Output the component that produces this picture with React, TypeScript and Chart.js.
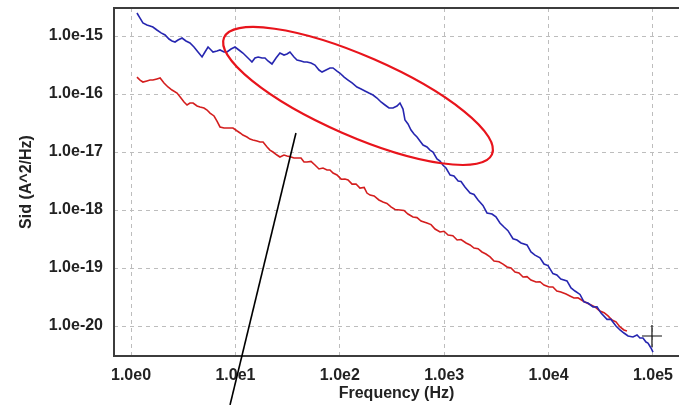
import { useEffect, useRef } from "react";
import { Chart, registerables } from "chart.js";

Chart.register(...registerables);

// ---- Tick values / labels ----
const xTickValues = [1, 10, 100, 1000, 10000, 100000];
const xTickLabels = ["1.0e0", "1.0e1", "1.0e2", "1.0e3", "1.0e4", "1.0e5"];
const yTickValues = [1e-20, 1e-19, 1e-18, 1e-17, 1e-16, 1e-15];
const yTickLabels = ["1.0e-20", "1.0e-19", "1.0e-18", "1.0e-17", "1.0e-16", "1.0e-15"];

const xTitle = "Frequency (Hz)";
const yTitle = "Sid (A^2/Hz)";

// ---- Blue series ----
const blueFreq = [
  1.14, 1.22, 1.30, 1.42, 1.52, 1.62, 1.77, 1.94, 2.12, 2.31,
  2.47, 2.64, 2.82, 3.08, 3.36, 3.67, 4.01, 4.38, 4.79, 5.11,
  5.47, 5.84, 6.10, 6.66, 7.12, 7.78, 8.31, 9.08, 9.91, 10.8,
  11.8, 12.9, 13.8, 14.4, 15.4, 16.5, 18.0, 19.2, 20.5, 22.4,
  24.5, 26.7, 29.2, 31.2, 33.3, 36.4, 38.9, 42.5, 45.4, 48.5,
  53.0, 57.8, 63.2, 67.6, 73.8, 80.5, 86.1, 94.0, 100, 110,
  120, 131, 146, 160, 174, 190, 208, 227, 248, 271,
  296, 323, 353, 377, 403, 421, 450, 481, 514, 549,
  586, 627, 684, 731, 781, 853, 912, 975, 1040, 1140,
  1240, 1360, 1450, 1580, 1770, 1930, 2110, 2350, 2570, 2870,
  3130, 3420, 3740, 4080, 4560, 4980, 5440, 6210, 6780, 7410,
  8270, 9040, 9870, 11000, 12000, 13100, 15000, 16400, 17900, 20000,
  21800, 23800, 26600, 29100, 31800, 36300, 39600, 44200, 48300, 52700,
  57700, 64300, 70300, 75000, 80200, 85700, 89500, 95700, 100000,
];
const blueSid = [
  2.49e-15, 2.04e-15, 1.68e-15, 1.55e-15, 1.49e-15, 1.43e-15, 1.27e-15, 1.13e-15, 1.04e-15, 8.87e-16,
  8.20e-16, 7.88e-16, 8.53e-16, 9.24e-16, 8.20e-16, 7.57e-16, 6.46e-16, 5.30e-16, 4.35e-16, 5.30e-16,
  6.46e-16, 5.74e-16, 5.30e-16, 5.51e-16, 5.74e-16, 5.30e-16, 5.30e-16, 5.97e-16, 6.46e-16, 5.74e-16,
  5.09e-16, 4.35e-16, 3.86e-16, 3.56e-16, 4.18e-16, 4.35e-16, 4.18e-16, 4.18e-16, 3.71e-16, 3.29e-16,
  4.18e-16, 5.09e-16, 4.70e-16, 4.90e-16, 5.30e-16, 4.35e-16, 3.86e-16, 3.71e-16, 3.56e-16, 3.56e-16,
  3.42e-16, 3.16e-16, 2.59e-16, 2.39e-16, 2.59e-16, 2.81e-16, 2.81e-16, 2.49e-16, 2.30e-16, 1.96e-16,
  1.74e-16, 1.55e-16, 1.32e-16, 1.22e-16, 1.13e-16, 1.04e-16, 9.61e-17, 8.53e-17, 7.28e-17, 6.46e-17,
  5.74e-17, 5.74e-17, 6.21e-17, 7.00e-17, 5.51e-17, 3.56e-17, 3.04e-17, 2.39e-17, 2.04e-17, 1.81e-17,
  1.55e-17, 1.32e-17, 1.22e-17, 1.08e-17, 1.00e-17, 7.60e-18, 7.00e-18, 5.90e-18, 5.30e-18, 4.00e-18,
  3.86e-18, 3.16e-18, 3.10e-18, 2.49e-18, 1.96e-18, 1.85e-18, 1.49e-18, 1.20e-18, 8.90e-19, 8.53e-19,
  7.60e-19, 5.97e-19, 5.09e-19, 4.40e-19, 3.20e-19, 3.04e-19, 2.70e-19, 2.50e-19, 1.89e-19, 1.67e-19,
  1.50e-19, 1.17e-19, 1.10e-19, 8.00e-20, 7.57e-20, 6.46e-20, 6.00e-20, 4.52e-20, 4.01e-20, 3.50e-20,
  2.60e-20, 2.49e-20, 2.13e-20, 2.15e-20, 1.67e-20, 1.30e-20, 1.30e-20, 1.00e-20, 8.53e-21, 7.57e-21,
  6.73e-21, 6.46e-21, 7.00e-21, 6.21e-21, 6.21e-21, 5.30e-21, 5.09e-21, 4.18e-21, 3.56e-21,
];

// ---- Red series ----
const redFreq = [
  1.14, 1.22, 1.30, 1.42, 1.52, 1.62, 1.77, 1.90, 2.07, 2.26,
  2.47, 2.76, 3.01, 3.22, 3.44, 3.67, 3.93, 4.29, 4.58, 5.00,
  5.35, 5.71, 6.24, 6.66, 7.12, 7.78, 8.49, 9.48, 10.4, 11.1,
  11.8, 12.9, 13.8, 14.7, 16.1, 17.2, 18.4, 20.1, 21.4, 22.9,
  25.0, 26.7, 29.2, 31.2, 34.1, 36.4, 38.9, 42.5, 45.4, 48.5,
  53.0, 57.8, 63.2, 69.0, 75.4, 80.5, 86.1, 94.0, 103, 112,
  120, 131, 143, 156, 171, 182, 195, 213, 237, 259,
  283, 309, 338, 377, 412, 450, 502, 549, 600, 684,
  748, 817, 912, 996, 1090, 1210, 1330, 1450, 1620, 1770,
  1930, 2110, 2300, 2510, 2750, 3000, 3350, 3660, 4000, 4360,
  4770, 5200, 5690, 6210, 6780, 7570, 8270, 9040, 10100, 11000,
  12000, 13100, 14700, 16000, 17500, 19100, 21400, 23300, 25500, 27800,
  31000, 34000, 37100, 40500, 44200, 48300, 52700, 56300,
];
const redSid = [
  1.96e-16, 1.74e-16, 1.61e-16, 1.68e-16, 1.74e-16, 1.74e-16, 1.82e-16, 1.89e-16, 1.55e-16, 1.32e-16,
  1.17e-16, 1.04e-16, 8.53e-17, 7.28e-17, 6.46e-17, 7.00e-17, 7.00e-17, 6.21e-17, 5.97e-17, 5.74e-17,
  5.30e-17, 4.70e-17, 4.18e-17, 3.42e-17, 2.70e-17, 2.59e-17, 2.59e-17, 2.59e-17, 2.30e-17, 2.13e-17,
  1.96e-17, 1.81e-17, 1.67e-17, 1.61e-17, 1.55e-17, 1.49e-17, 1.49e-17, 1.22e-17, 1.08e-17, 1.00e-17,
  8.87e-18, 8.20e-18, 8.87e-18, 8.53e-18, 8.20e-18, 7.88e-18, 7.88e-18, 7.90e-18, 6.73e-18, 6.73e-18,
  6.90e-18, 5.97e-18, 5.10e-18, 5.30e-18, 4.90e-18, 4.90e-18, 4.35e-18, 4.01e-18, 3.40e-18, 3.42e-18,
  3.29e-18, 2.80e-18, 2.81e-18, 2.39e-18, 2.45e-18, 1.96e-18, 1.81e-18, 1.75e-18, 1.49e-18, 1.37e-18,
  1.30e-18, 1.13e-18, 1.02e-18, 1.00e-18, 9.80e-19, 8.53e-19, 7.57e-19, 7.40e-19, 6.46e-19, 5.97e-19,
  5.60e-19, 4.70e-19, 4.18e-19, 4.30e-19, 3.71e-19, 3.60e-19, 3.04e-19, 3.10e-19, 2.70e-19, 2.50e-19,
  2.21e-19, 2.15e-19, 1.89e-19, 1.74e-19, 1.55e-19, 1.32e-19, 1.28e-19, 1.17e-19, 1.04e-19, 1.00e-19,
  8.53e-20, 8.20e-20, 7.00e-20, 7.10e-20, 6.21e-20, 5.74e-20, 5.80e-20, 5.09e-20, 4.70e-20, 4.70e-20,
  4.01e-20, 3.86e-20, 3.55e-20, 3.29e-20, 3.04e-20, 3.05e-20, 2.70e-20, 2.49e-20, 2.30e-20, 2.13e-20,
  1.81e-20, 1.70e-20, 1.49e-20, 1.27e-20, 1.18e-20, 9.61e-21, 8.53e-21, 8.20e-21,
];

// ---- Overlay annotations (in data coordinates) ----
const ellipseMajorEnds = [
  [7.78, 9.4e-16],
  [2870, 9.1e-18],
];
const ellipseMinorRatio = 0.274;
const pointerLine = [
  [38.0, 2.13e-17],
  [8.88, 4.35e-22],
];
const cursorPoint = [97800, 6.73e-21];

const FONT = "'Liberation Sans', Arial, Helvetica, sans-serif";

const overlayPlugin = {
  id: "overlay",
  afterDraw(chart: any) {
    const { ctx, chartArea: a } = chart;
    const xs = chart.scales.x;
    const ys = chart.scales.y;
    ctx.save();
    // frame
    ctx.strokeStyle = "#3c3c3c";
    ctx.lineWidth = 2;
    ctx.beginPath();
    ctx.moveTo(a.right, a.top);
    ctx.lineTo(a.left, a.top);
    ctx.lineTo(a.left, a.bottom);
    ctx.lineTo(a.right, a.bottom);
    ctx.stroke();

    // ellipse
    const x1 = xs.getPixelForValue(ellipseMajorEnds[0][0]);
    const y1 = ys.getPixelForValue(ellipseMajorEnds[0][1]);
    const x2 = xs.getPixelForValue(ellipseMajorEnds[1][0]);
    const y2 = ys.getPixelForValue(ellipseMajorEnds[1][1]);
    const cx = (x1 + x2) / 2;
    const cy = (y1 + y2) / 2;
    const ra = Math.hypot(x2 - x1, y2 - y1) / 2;
    const ang = Math.atan2(y2 - y1, x2 - x1);
    ctx.beginPath();
    ctx.ellipse(cx, cy, ra, ra * ellipseMinorRatio, ang, 0, Math.PI * 2);
    ctx.strokeStyle = "#e8141c";
    ctx.lineWidth = 2.2;
    ctx.stroke();

    // pointer line
    ctx.beginPath();
    ctx.moveTo(xs.getPixelForValue(pointerLine[0][0]), ys.getPixelForValue(pointerLine[0][1]));
    ctx.lineTo(xs.getPixelForValue(pointerLine[1][0]), ys.getPixelForValue(pointerLine[1][1]));
    ctx.strokeStyle = "#000";
    ctx.lineWidth = 1.6;
    ctx.stroke();

    // cursor cross
    const px = xs.getPixelForValue(cursorPoint[0]);
    const py = ys.getPixelForValue(cursorPoint[1]);
    ctx.beginPath();
    ctx.moveTo(px - 10, py);
    ctx.lineTo(px + 10, py);
    ctx.moveTo(px, py - 11);
    ctx.lineTo(px, py + 11);
    ctx.strokeStyle = "#111";
    ctx.lineWidth = 1.2;
    ctx.stroke();
    ctx.restore();
  },
};

export default function App() {
  const ref = useRef<HTMLCanvasElement>(null);
  useEffect(() => {
    document.body.style.margin = "0";
    const canvas = ref.current!;
    const chart = new Chart(canvas, {
      type: "line",
      data: {
        datasets: [
          {
            label: "A",
            data: blueFreq.map((f, i) => ({ x: f, y: blueSid[i] })),
            borderColor: "#2626b0",
            borderWidth: 1.6,
            pointRadius: 0,
            tension: 0,
          },
          {
            label: "B",
            data: redFreq.map((f, i) => ({ x: f, y: redSid[i] })),
            borderColor: "#d41e1e",
            borderWidth: 1.6,
            pointRadius: 0,
            tension: 0,
          },
        ],
      },
      options: {
        responsive: false,
        animation: false,
        events: [],
        layout: { padding: { top: 8, left: 0, right: 0, bottom: 0 } },
        plugins: { legend: { display: false }, tooltip: { enabled: false } },
        scales: {
          x: {
            type: "logarithmic",
            min: 0.687,
            max: 177500,
            afterBuildTicks: (s: any) => {
              s.ticks = xTickValues.map((v) => ({ value: v }));
            },
            afterFit: (s: any) => {
              s.height = 49;
              s.paddingLeft = 0;
              s.paddingRight = 0;
            },
            ticks: {
              callback: (_v: any, i: number) => xTickLabels[i],
              font: { family: FONT, size: 16, weight: "bold" },
              color: "#222",
              padding: 10,
              maxRotation: 0,
              autoSkip: false,
            },
            grid: { color: "#bdbdbd", lineWidth: 1, drawTicks: false },
            border: { display: false, dash: [4, 4] },
            title: {
              display: true,
              text: xTitle,
              font: { family: FONT, size: 16, weight: "bold" },
              color: "#222",
              padding: { top: 0, bottom: 2 },
            },
          },
          y: {
            type: "logarithmic",
            min: 3.04e-21,
            max: 3.04e-15,
            afterBuildTicks: (s: any) => {
              s.ticks = yTickValues.map((v) => ({ value: v }));
            },
            afterFit: (s: any) => {
              s.width = 114;
              s.paddingTop = 0;
              s.paddingBottom = 0;
            },
            ticks: {
              callback: (_v: any, i: number) => yTickLabels[i],
              font: { family: FONT, size: 16, weight: "bold" },
              color: "#222",
              padding: 11,
              autoSkip: false,
            },
            grid: { color: "#bdbdbd", lineWidth: 1, drawTicks: false },
            border: { display: false, dash: [4, 4] },
            title: {
              display: true,
              text: yTitle,
              font: { family: FONT, size: 16, weight: "bold" },
              color: "#222",
              padding: { top: 17, bottom: 0 },
            },
          },
        },
      },
      plugins: [overlayPlugin],
    } as any);
    return () => chart.destroy();
  }, []);
  return (
    <div style={{ width: 679, height: 405 }}>
      <canvas ref={ref} width={679} height={405} style={{ display: "block" }} />
    </div>
  );
}
